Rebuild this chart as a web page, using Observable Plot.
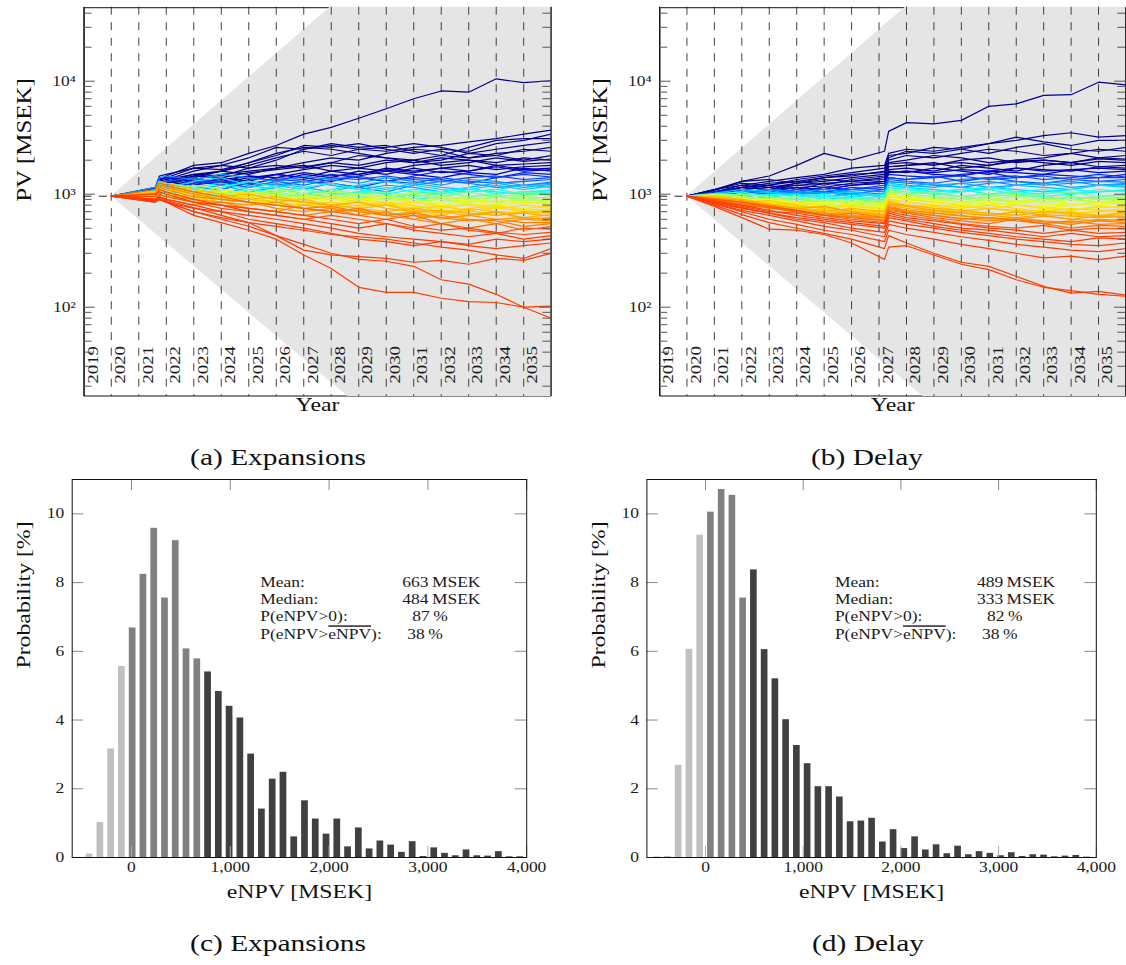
<!DOCTYPE html>
<html>
<head>
<meta charset="utf-8">
<script src="https://cdn.jsdelivr.net/npm/d3@7"></script>
<script src="https://cdn.jsdelivr.net/npm/@observablehq/plot@0.6"></script>
<style>
  html, body { margin: 0; padding: 0; background: #fff; overflow: hidden; }
  #fig { position: relative; width: 1126px; height: 965px; overflow: hidden; font-family: "Liberation Serif", serif; }
  .panel { position: absolute; }
  .cap { position: absolute; text-align: center; font-size: 23px; line-height: 24px; color: #111;
         font-family: "Liberation Serif", serif; transform: scaleX(1.28); transform-origin: 50% 50%; }
</style>
</head>
<body>
<div id="fig">
  <div class="panel" id="pa" style="left:0px;top:0px"></div>
  <div class="panel" id="pb" style="left:576px;top:0px"></div>
  <div class="panel" id="pc" style="left:0px;top:470px"></div>
  <div class="panel" id="pd" style="left:575px;top:470px"></div>
  <div class="cap" style="left:0px;top:446px;width:556px">(a) Expansions</div>
  <div class="cap" style="left:587px;top:446px;width:560px">(b) Delay</div>
  <div class="cap" style="left:0px;top:932px;width:556px">(c) Expansions</div>
  <div class="cap" style="left:588px;top:932px;width:560px">(d) Delay</div>
</div>
<script>
// ---------------- data: PV paths ----------------
const yearLabels = ["2019","2020","2021","2022","2023","2024","2025","2026","2027","2028","2029","2030","2031","2032","2033","2034","2035"];
const yearBoundaries = [2020,2021,2022,2023,2024,2025,2026,2027,2028,2029,2030,2031,2032,2033,2034,2035];
const pvMajorTicks = [100, 1000, 10000];
const pvMinorTicks = [20,30,40,50,60,70,80,90,200,300,400,500,600,700,800,900,2000,3000,4000,5000,6000,7000,8000,9000,20000,30000,40000];
const pvStart = 960;
// grey band (spread of the simulated outcomes), log-linear
const pvCone = [{t: 2020, lo: 960, hi: 960}, {t: 2036, lo: 0.485, hi: 2210000}];

const timeA = [2020,2021.6,2021.75,2022,2023,2024,2025,2026,2027,2028,2029,2030,2031,2032,2033,2034,2035,2036];
const pathsA = [
  [960,1050,1300,1450,1800,1900,2300,2700,3400,3900,4700,5700,7000,8200,8000,10500,9700,10100],
  [960,1080,1350,1400,1700,1800,2100,2600,2500,2700,2500,2400,2600,2700,2900,3100,3400,3700],
  [960,1000,1250,1300,1500,1600,1900,2200,2700,2600,2800,2500,2300,2500,2400,2800,3000,3400],
  [960,1100,1400,1350,1600,1800,1700,2000,2500,2800,2600,2700,2400,2200,2600,3000,3100,3100],
  [960,1020,1200,1250,1450,1600,1800,2100,2400,2200,2500,2600,2800,2600,2300,2500,2700,2900],
  [960,1150,1450,1500,1700,1650,1900,2300,2600,2500,2300,2100,2000,2200,2100,2300,2400,2600],
  [960,1000,1200,1150,1350,1500,1600,1700,1900,2100,2000,2300,2500,2400,2100,2200,2500,2400],
  [960,1050,1300,1350,1500,1450,1700,1800,1700,1900,2200,2100,1900,2000,2300,2200,2000,2200],
  [960,1100,1300,1250,1400,1600,1500,1700,1800,1600,1700,1900,2000,1800,1900,2100,1950,2050],
  [960,950,1150,1200,1300,1250,1400,1500,1650,1800,1700,1600,1800,1900,2000,1800,1850,1900],
  [960,1080,1250,1300,1200,1400,1300,1500,1400,1600,1500,1700,1600,1700,1800,1650,1750,1800],
  [960,1000,1150,1100,1250,1350,1450,1300,1500,1400,1600,1500,1700,1550,1600,1800,1650,1700],
  [960,1120,1350,1400,1300,1200,1350,1500,1400,1300,1450,1600,1500,1400,1550,1500,1700,1600],
  [960,900,1100,1050,1200,1300,1200,1400,1350,1500,1400,1300,1450,1600,1500,1400,1550,1500],
  [960,1050,1200,1150,1000,1100,1250,1200,1300,1250,1150,1300,1400,1350,1250,1400,1500,1420],
  [960,1000,1250,1300,1400,1250,1150,1300,1200,1350,1450,1300,1250,1400,1300,1250,1300,1350],
  [960,850,1000,1050,1150,1100,1300,1200,1100,1250,1150,1050,1200,1300,1250,1150,1200,1280],
  [960,1100,1300,1200,1100,1200,1050,1150,1300,1200,1100,1200,1150,1050,1150,1250,1150,1220],
  [960,950,1100,1150,1300,1400,1200,1100,1000,1100,1200,1300,1200,1100,1050,1100,1200,1150],
  [960,1000,1050,1000,1100,950,1050,1200,1100,1000,1050,1150,1050,1000,1100,1050,1000,1100],
  [960,1050,1250,1200,1050,1150,1300,1150,1000,950,1050,1000,900,950,1050,1100,1000,1050],
  [960,900,1050,1000,900,1000,1100,1000,950,1050,950,900,1000,1050,950,1000,1050,1000],
  [960,1000,1200,1250,1150,1050,950,1050,1100,1000,900,950,1000,900,850,950,900,950],
  [960,950,1100,1050,1200,1100,1000,900,950,1050,1000,950,850,900,950,850,880,900],
  [960,1050,1200,1150,1000,900,1000,1100,1000,900,850,950,900,800,850,900,820,860],
  [960,880,1000,950,850,950,900,800,850,950,900,800,750,850,900,800,850,820],
  [960,1000,1150,1100,1000,1100,1000,900,850,800,900,850,780,750,820,780,750,780],
  [960,920,1100,1050,950,850,800,900,850,750,800,850,800,700,750,800,720,740],
  [960,1000,1050,1000,900,950,850,800,750,700,750,800,700,650,750,700,680,700],
  [960,1050,1300,1250,1100,1000,900,950,850,800,750,700,750,700,650,700,620,660],
  [960,900,1000,950,850,800,750,700,800,750,700,650,700,600,650,700,600,620],
  [960,1000,1200,1150,1000,900,850,750,700,750,650,700,600,650,600,550,600,580],
  [960,850,950,900,800,850,750,700,650,700,750,650,600,550,600,580,520,550],
  [960,1100,1250,1200,1050,950,850,800,750,700,650,600,650,550,500,550,480,520],
  [960,900,1000,950,850,750,700,650,600,650,600,550,500,550,480,450,500,490],
  [960,950,1100,1050,900,800,750,700,650,600,550,600,520,480,500,460,440,460],
  [960,1000,1050,1000,850,800,700,650,600,550,500,550,480,450,420,450,400,430],
  [960,850,900,850,750,700,650,600,550,500,450,420,400,380,360,400,380,400],
  [960,900,950,900,800,700,600,550,500,450,400,380,350,380,350,330,350,370],
  [960,880,900,850,700,620,560,520,480,440,420,400,370,340,320,290,270,330],
  [960,900,950,880,760,650,560,430,320,290,280,270,250,260,240,270,260,300],
  [960,870,900,850,650,560,480,400,290,220,150,135,135,120,112,110,100,102],
  [960,880,920,860,700,600,520,430,360,300,265,255,230,175,160,130,100,80],
  [960,1150,1400,1450,1350,1500,1400,1300,1450,1350,1250,1400,1300,1200,1350,1300,1200,1250],
  [960,1000,1150,1200,1100,1000,1150,1250,1150,1050,1200,1100,1250,1150,1100,1200,1100,1180],
  [960,1080,1300,1250,1150,1250,1100,1050,1150,1250,1100,1000,1100,1050,1150,1000,1050,1080],
  [960,930,1100,1150,1050,950,1050,950,1000,1100,1000,1050,950,1000,1050,950,1000,980],
  [960,1020,1150,1100,1000,1100,1000,1050,950,900,1000,950,1050,950,900,980,950,920],
  [960,980,1100,1050,1100,1000,950,1000,900,950,1000,900,850,950,900,850,900,880],
  [960,940,1050,1000,950,1050,950,900,950,850,900,950,850,800,880,900,820,840],
  [960,1060,1250,1200,1100,1000,1050,950,900,950,850,800,850,780,800,750,800,760],
  [960,910,1050,1000,950,900,950,850,800,850,780,820,750,780,720,760,700,720],
  [960,990,1150,1100,1000,950,900,850,900,800,750,800,720,680,720,650,700,680],
  [960,1030,1200,1150,1050,950,1000,900,850,800,850,750,700,720,680,650,680,640],
  [960,870,980,950,900,850,800,850,750,700,720,680,650,620,650,600,620,600],
  [960,1010,1150,1100,950,900,850,800,750,780,700,650,680,620,580,600,560,560],
  [960,1050,1250,1300,1450,1400,1550,1650,1750,1900,1800,2000,1900,2100,2000,1900,2100,2000],
  [960,1020,1200,1250,1350,1300,1450,1400,1550,1450,1500,1650,1550,1700,1600,1750,1600,1650],
  [960,990,1200,1150,1250,1300,1250,1350,1300,1400,1350,1450,1350,1300,1400,1450,1350,1400]
];

const timeB = [2020,2021,2022,2023,2024,2025,2026,2027.2,2027.35,2028,2029,2030,2031,2032,2033,2034,2035,2036];
const pathsB = [
  [960,1100,1300,1450,1800,2300,2000,2400,3600,4300,4200,4500,6000,6300,7500,7600,9800,9300],
  [960,1050,1200,1300,1400,1500,1700,1800,2300,2500,2400,2600,2800,3000,3300,3500,3200,3300],
  [960,1100,1250,1200,1350,1450,1550,1700,2200,2300,2600,2500,2800,3200,2900,2700,3000,3000],
  [960,1000,1150,1250,1300,1400,1450,1600,2100,2400,2300,2500,2300,2600,2800,2500,2400,2600],
  [960,1080,1300,1350,1250,1400,1500,1550,2000,2200,2100,2300,2500,2400,2200,2300,2500,2400],
  [960,1050,1150,1100,1250,1300,1400,1500,1900,2000,2200,2100,1900,2000,2100,2300,2100,2200],
  [960,1000,1100,1200,1300,1200,1350,1450,1850,1900,1800,2000,2100,1900,2000,1900,2100,2050],
  [960,1100,1200,1150,1250,1350,1300,1400,1750,1800,1900,1700,1800,2000,1900,1800,1950,1900],
  [960,950,1050,1100,1200,1150,1250,1300,1650,1700,1600,1800,1700,1600,1800,1900,1750,1800],
  [960,1050,1150,1200,1100,1250,1200,1300,1600,1550,1700,1600,1500,1700,1650,1600,1750,1700],
  [960,1000,1100,1050,1150,1100,1200,1250,1550,1600,1500,1450,1600,1550,1500,1650,1550,1600],
  [960,920,1000,1100,1050,1150,1100,1200,1500,1450,1400,1500,1550,1400,1500,1450,1400,1500],
  [960,1050,1100,1000,1100,1050,1150,1100,1400,1350,1450,1300,1400,1450,1350,1400,1500,1420],
  [960,980,1050,1100,1000,1050,1000,1100,1350,1300,1250,1350,1400,1300,1250,1350,1300,1350],
  [960,1000,950,1000,1050,1000,1100,1050,1300,1250,1200,1150,1250,1300,1200,1250,1300,1280],
  [960,900,1000,950,1000,1050,950,1000,1250,1200,1150,1250,1150,1200,1250,1150,1200,1220],
  [960,1020,1100,1050,950,1000,1050,950,1200,1150,1100,1050,1150,1100,1050,1100,1200,1150],
  [960,950,900,950,1000,900,950,1000,1250,1150,1050,1100,1000,1050,1100,1000,1050,1100],
  [960,1000,1050,950,900,950,900,950,1150,1100,1000,1050,1100,1000,950,1000,1100,1050],
  [960,900,950,900,950,850,900,900,1100,1050,1000,950,1000,1050,950,900,950,1000],
  [960,980,1000,950,850,900,850,880,1100,1000,950,900,950,1000,900,950,900,950],
  [960,1000,950,900,950,850,800,850,1050,1000,900,850,900,950,850,900,850,900],
  [960,920,900,850,800,850,900,800,1000,950,900,850,800,850,900,820,800,860],
  [960,950,880,900,850,800,750,780,950,900,850,800,850,800,750,800,850,820],
  [960,900,850,800,850,780,800,750,950,900,850,800,750,800,780,720,760,780],
  [960,980,900,850,800,750,700,720,900,850,800,750,800,750,700,750,720,740],
  [960,900,850,880,800,750,720,700,880,800,750,700,750,720,680,700,650,700],
  [960,950,900,820,750,700,750,700,850,800,750,720,680,650,700,680,640,660],
  [960,880,850,800,750,780,700,650,820,780,720,680,650,700,650,600,640,620],
  [960,920,880,800,720,680,650,620,780,720,680,650,600,620,580,560,600,580],
  [960,900,820,750,700,650,680,620,760,700,650,600,620,580,550,580,540,550],
  [960,870,800,760,700,650,620,580,720,680,620,580,550,600,550,500,530,520],
  [960,900,850,780,720,650,600,560,700,650,600,550,520,500,530,480,500,490],
  [960,860,780,700,680,620,580,550,680,620,580,540,500,480,450,480,450,460],
  [960,880,800,720,650,600,560,520,650,600,550,500,480,450,420,450,420,430],
  [960,850,760,680,620,580,540,500,620,580,520,480,450,420,400,380,410,400],
  [960,840,750,680,600,560,500,460,580,540,500,460,430,400,380,360,350,370],
  [960,830,720,650,580,520,480,420,540,500,460,420,390,360,340,320,310,330],
  [960,820,700,600,540,480,440,380,480,440,400,360,330,300,273,283,264,283],
  [960,800,660,560,500,450,400,330,430,370,300,250,230,188,153,133,138,128],
  [960,780,620,490,480,440,370,265,340,350,290,240,215,175,150,140,130,125],
  [960,1000,1050,1100,1050,1100,1050,1000,1250,1300,1200,1250,1300,1200,1250,1300,1200,1250],
  [960,950,1000,1050,1000,950,1000,950,1200,1150,1250,1150,1100,1200,1150,1100,1200,1180],
  [960,1000,950,1000,950,1000,900,950,1150,1100,1050,1100,1150,1050,1000,1100,1050,1080],
  [960,940,1000,950,900,850,900,850,1050,1000,1050,950,1000,950,1000,1050,950,980],
  [960,980,950,900,850,900,850,800,1000,950,900,950,900,850,900,950,900,920],
  [960,920,880,900,850,800,850,820,1000,950,900,850,900,880,850,900,850,880],
  [960,960,920,880,820,850,800,780,980,920,880,850,800,850,820,800,850,840],
  [960,900,880,850,800,750,780,730,900,850,800,780,750,800,750,720,780,760],
  [960,940,880,820,780,750,700,680,850,800,780,720,750,700,720,680,700,720],
  [960,900,840,800,760,720,700,660,820,780,720,700,680,650,700,660,650,680],
  [960,920,860,790,740,700,680,640,800,750,700,680,650,620,660,640,620,640],
  [960,880,830,780,720,680,640,610,760,720,680,640,620,600,640,600,580,600],
  [960,910,840,770,710,660,630,590,740,690,650,610,580,600,570,540,580,560],
  [960,1000,1100,1150,1200,1250,1300,1350,1750,1800,1850,1900,1800,1950,2000,1900,2050,2000],
  [960,980,1050,1100,1150,1100,1200,1250,1550,1600,1550,1650,1600,1700,1600,1650,1700,1650],
  [960,1020,1050,1000,1100,1050,1100,1150,1400,1350,1400,1450,1350,1400,1450,1350,1400,1400]
];

// ---------------- data: eNPV histograms ----------------
const npvTicks = [0, 1000, 2000, 3000, 4000];
const probTicks = [0, 2, 4, 6, 8, 10];

const binsC = [-424,-315,-206,-97,12,121,230,339,448,557,666,775,884,993,1102,1211,1320,1429,1538,1647,1756,1865,1974,2083,2192,2301,2410,2519,2628,2737,2846,2955,3064,3173,3282,3391,3500,3609,3718,3827,3936];
const probC = [0.1,1.02,3.16,5.56,6.68,8.24,9.58,7.55,9.22,6.07,5.78,5.4,4.83,4.4,4.06,3.01,1.41,2.28,2.48,0.6,1.65,1.12,0.68,1.12,0.31,0.86,0.25,0.48,0.36,0.15,0.46,0.03,0.28,0.12,0.05,0.22,0.05,0.04,0.17,0.02,0.02];
const groupC = [..."nnnn", ..."mmmmmmm", ..."hhhhhhhhhh", ..."hhhhhhhhhh", ..."hhhhhhhhhh"];

const binsD = [-495,-385,-275,-165,-55,55,165,275,385,495,605,715,825,935,1045,1155,1265,1375,1485,1595,1705,1815,1925,2035,2145,2255,2365,2475,2585,2695,2805,2915,3025,3135,3245,3355,3465,3575,3685,3795,3905];
const probD = [0.02,0.03,2.68,6.06,9.38,10.05,10.71,10.54,7.55,8.37,6.05,5.2,4.01,3.26,2.73,2.06,2.06,1.76,1.04,1.06,1.14,0.45,0.81,0.26,0.6,0.22,0.37,0.11,0.33,0.08,0.17,0.12,0.05,0.14,0.03,0.08,0.07,0.02,0.04,0.06,0.01];
const groupD = [..."nnnnn", ..."mmmm", ..."hhhhhhhhhh", ..."hhhhhhhhhh", ..."hhhhhhhhhh", ..."hh"];

const statLabels = ["Mean:", "Median:", "P(eNPV>0):", "P(eNPV>eNPV):"];
const statOverlined = "eNPV";   // the mean eNPV in the last row carries a bar
const statRowsY = [8, 7.5, 7, 6.5];
const statValuesC = ["663\u2009MSEK", "484\u2009MSEK", "87\u2009%", "38\u2009%"];
const statValuesD = ["489\u2009MSEK", "333\u2009MSEK", "82\u2009%", "38\u2009%"];

// ---------------- styling ----------------
const SERIF = "'Liberation Serif', serif";
const TEXT_STRETCH = 1.25;
const jetStops = ["#ff3c00","#ff6400","#ff8c00","#ffb400","#ffe000","#e6ff1a","#80ff80","#00ffff","#00a0ff","#0040ff","#0000d0","#00008c"];
const jet = d3.piecewise(d3.interpolateRgb, jetStops);
const sup = {2: "\u00b2", 3: "\u00b3", 4: "\u2074"};
const groupColors = {domain: ["n", "m", "h"], range: ["#c0c0c0", "#808080", "#404040"]};

function pvPanel(time, paths, opts) {
  const ordered = paths.slice().sort((a, b) => b[b.length - 1] - a[a.length - 1]);
  const rows = [];
  ordered.forEach((p, id) => p.forEach((v, j) => rows.push({t: time[j], v, id, end: p[p.length - 1]})));
  const x0 = 2019, x1 = 2036;
  return Plot.plot({
    width: opts.width, height: 430,
    marginLeft: opts.marginLeft, marginRight: opts.marginRight, marginTop: 6.7, marginBottom: 34,
    style: {fontFamily: SERIF, fontSize: "14px", color: "#1a1a1a", background: "transparent", overflow: "visible"},
    x: {domain: [x0, x1], axis: null},
    y: {type: "log", domain: [16.2, 45200]},
    color: {type: "log", domain: [450, 1800], interpolate: jet, clamp: true},
    marks: [
      Plot.frame({inset: 0.5, stroke: "#111"}),
      Plot.areaY(pvCone, {x: "t", y1: "lo", y2: "hi", fill: "#e5e5e5", clip: true}),
      Plot.ruleX(yearBoundaries, {stroke: "#222", strokeOpacity: 0.85, strokeDasharray: "8,7.5", strokeWidth: 1}),
      Plot.ruleY([pvStart], {x1: x0, x2: time[0], stroke: "#222", strokeDasharray: "8,7.5"}),
      Plot.line(rows, {x: "t", y: "v", z: "id", stroke: "end", strokeWidth: 1.2, clip: true}),
      Plot.ruleX([x0, x1], {stroke: "#111"}),
      Plot.ruleY(pvMajorTicks, {x1: x0, x2: x0 + 0.42, stroke: "#555"}),
      Plot.ruleY(pvMinorTicks, {x1: x0, x2: x0 + 0.3, stroke: "#555"}),
      Plot.ruleY(pvMajorTicks, {x1: x1 - 0.42, x2: x1, stroke: "#555"}),
      Plot.ruleY(pvMinorTicks, {x1: x1 - 0.3, x2: x1, stroke: "#555"}),
      Plot.axisY({ticks: pvMajorTicks, tickFormat: d => "10" + sup[Math.round(Math.log10(d))], tickSize: 0, tickPadding: 8, fontSize: 14, label: null}),
      Plot.text(yearLabels, {x: (d, i) => x0 + 0.5 + i, text: d => d, frameAnchor: "bottom", dy: -13, rotate: -90, textAnchor: "start", fontSize: 15, fill: "#1a1a1a"}),
      Plot.text(["Year"], {text: d => d, frameAnchor: "bottom", dy: 14, fontSize: 19, fill: "#111"}),
      Plot.text(["PV [MSEK]"], {text: d => d, frameAnchor: "left", dx: -59, rotate: -90, fontSize: 20, fill: "#111"})
    ]
  });
}

function npvPanel(bins, probs, groups, values, opts) {
  const bars = bins.map((c, i) => ({c, p: probs[i], g: groups[i]}));
  const valueDx = [330, 330, 340, 335];
  const statMarks = values.map((v, i) =>
    Plot.text([v], {text: d => d, y: statRowsY[i], frameAnchor: "left", dx: valueDx[i], textAnchor: "start", fontSize: 14, fill: "#1a1a1a"}));
  return Plot.plot({
    width: opts.width, height: 450,
    marginLeft: opts.marginLeft, marginRight: opts.marginRight, marginTop: 9, marginBottom: 63,
    style: {fontFamily: SERIF, fontSize: "14px", color: "#1a1a1a", background: "transparent", overflow: "visible"},
    x: {domain: [-600, 4000]},
    y: {domain: [0, 11]},
    color: groupColors,
    marks: [
      Plot.rect(bars, {x1: d => d.c - 34, x2: d => d.c + 34, y1: 0, y2: "p", fill: "g"}),
      Plot.ruleX(npvTicks, {y1: 0, y2: 0.32, stroke: "#aaa"}),
      Plot.ruleX(npvTicks, {y1: 10.68, y2: 11, stroke: "#888"}),
      Plot.ruleY(probTicks, {x1: -600, x2: -484, stroke: "#888"}),
      Plot.ruleY(probTicks, {x1: 3884, x2: 4000, stroke: "#888"}),
      Plot.frame({stroke: "#111"}),
      Plot.axisX({ticks: npvTicks, tickSize: 0, tickPadding: 5, tickFormat: d3.format(","), label: null, fontSize: 14}),
      Plot.axisY({ticks: probTicks, tickSize: 0, tickPadding: 8, label: null, fontSize: 14}),
      Plot.text(["eNPV [MSEK]"], {text: d => d, frameAnchor: "bottom", dy: 40, fontSize: 19, fill: "#111"}),
      Plot.text(["Probability [%]"], {text: d => d, frameAnchor: "left", dx: -48, rotate: -90, fontSize: 19, fill: "#111"}),
      Plot.text(statLabels, {text: d => d, y: (d, i) => statRowsY[i], frameAnchor: "left", dx: 188, textAnchor: "start", fontSize: 14, fill: "#1a1a1a"}),
      ...statMarks
    ]
  });
}

// widen glyphs horizontally to match the wide serif face of the original
function stretchTexts(svg, k) {
  svg.querySelectorAll("text").forEach(t => {
    const x = +t.getAttribute("x") || 0, y = +t.getAttribute("y") || 0;
    const T = t.getAttribute("transform") || "";
    t.setAttribute("transform", `${T} translate(${x},${y}) scale(${k},1) translate(${-x},${-y})`);
  });
}
// put the bar over the mean in the last statistics row
function overlineMean(svg) {
  svg.querySelectorAll("text").forEach(t => {
    if (t.textContent !== statLabels[3]) return;
    const s = t.textContent, cut = s.lastIndexOf(statOverlined);
    t.textContent = "";
    t.append(document.createTextNode(s.slice(0, cut)));
    const ts = document.createElementNS("http://www.w3.org/2000/svg", "tspan");
    ts.textContent = statOverlined;
    ts.setAttribute("text-decoration", "overline");
    ts.style.textDecoration = "overline";
    t.append(ts);
    t.append(document.createTextNode(s.slice(cut + statOverlined.length)));
  });
}

const pa = pvPanel(timeA, pathsA, {width: 560, marginLeft: 83.3, marginRight: 9.3});
const pb = pvPanel(timeB, pathsB, {width: 550, marginLeft: 83, marginRight: 0.5});
const pc = npvPanel(binsC, probC, groupC, statValuesC, {width: 560, marginLeft: 71.7, marginRight: 33.8});
const pd = npvPanel(binsD, probD, groupD, statValuesD, {width: 551, marginLeft: 71.4, marginRight: 30.2});
[pa, pb, pc, pd].forEach(svg => { overlineMean(svg); stretchTexts(svg, TEXT_STRETCH); });
document.getElementById("pa").append(pa);
document.getElementById("pb").append(pb);
document.getElementById("pc").append(pc);
document.getElementById("pd").append(pd);
</script>
</body>
</html>
